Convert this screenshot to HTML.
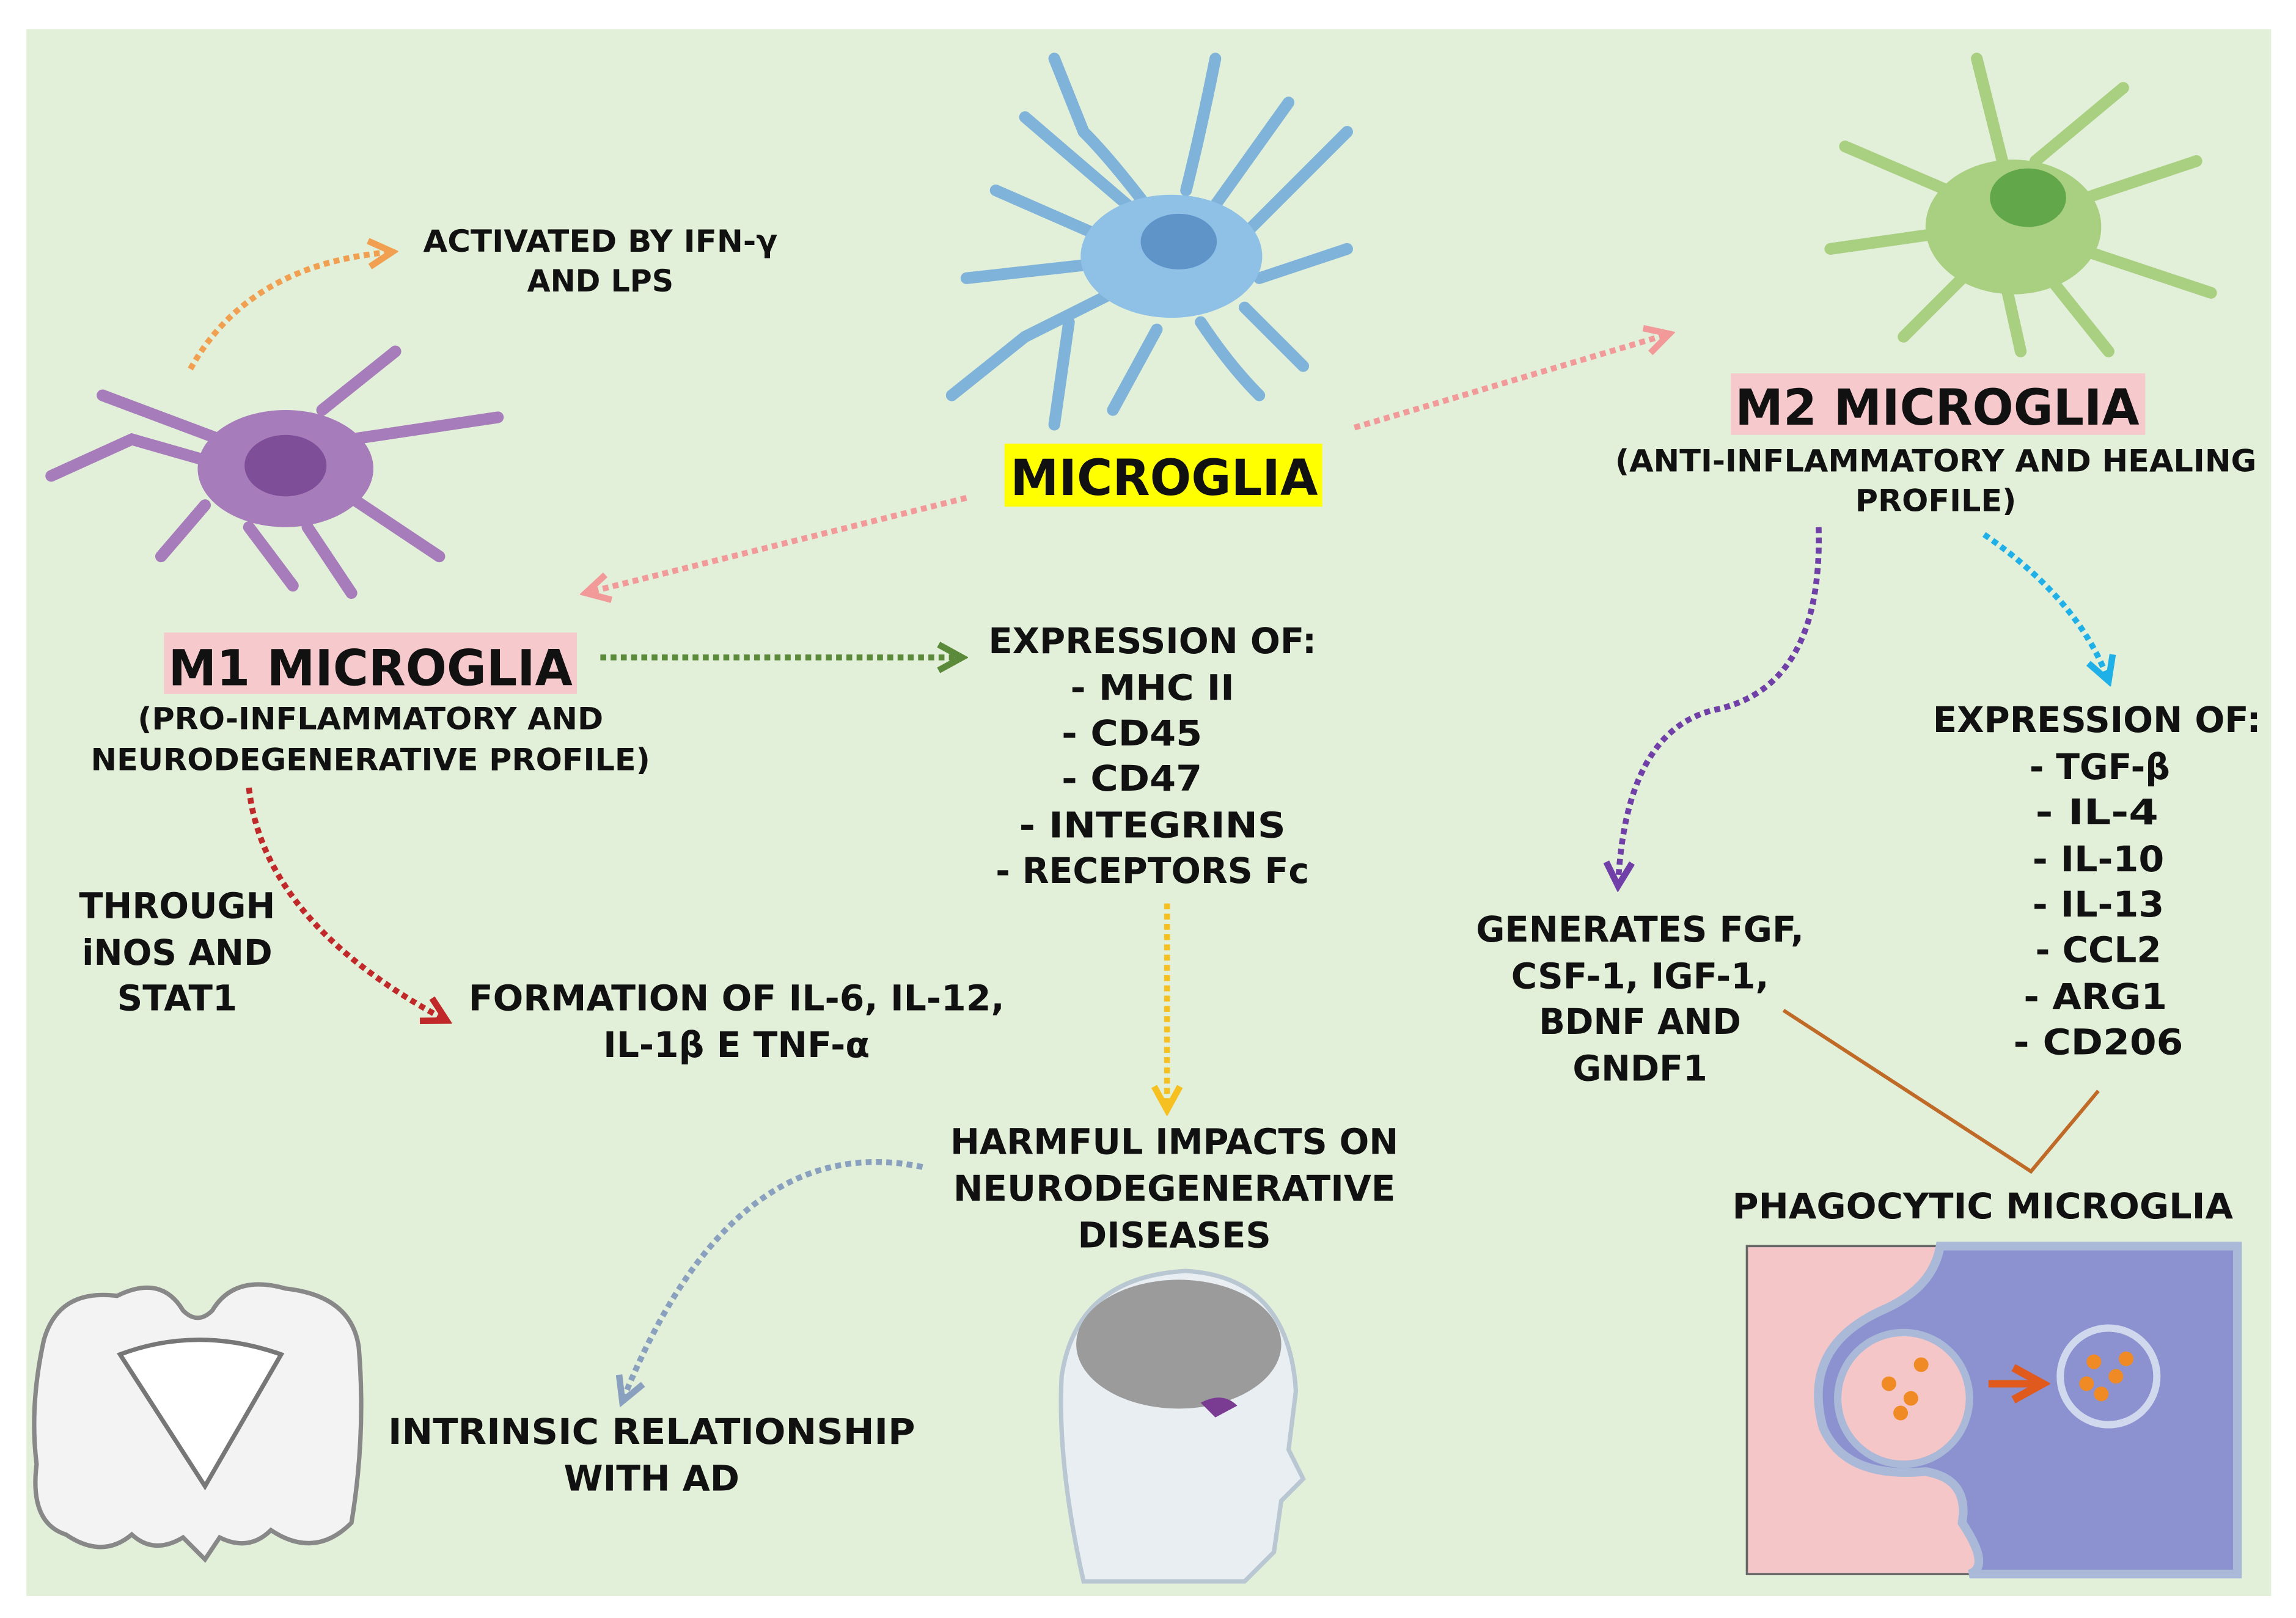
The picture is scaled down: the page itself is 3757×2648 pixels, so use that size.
<!DOCTYPE html>
<html><head><meta charset="utf-8"><style>
html,body{margin:0;padding:0;background:#fff;}
svg{display:block;}
text{font-family:"DejaVu Sans","Liberation Sans",sans-serif;font-weight:bold;fill:#111;text-anchor:middle;}
</style></head><body>
<svg width="3757" height="2648" viewBox="0 0 1568 1105" preserveAspectRatio="none" xmlns="http://www.w3.org/2000/svg">
<defs>
<marker id="ah" markerWidth="6" markerHeight="6" refX="5" refY="3" orient="auto" markerUnits="strokeWidth"><path d="M1,0.8 L5,3 L1,5.2" fill="none" stroke="context-stroke" stroke-width="1.1"/></marker>
</defs>
<rect x="0" y="0" width="1568" height="1105" fill="#fff"/>
<rect x="18" y="20" width="1533" height="1070" fill="#e2efd9"/>

<!-- blue microglia -->
<g stroke="#7fb3d9" stroke-width="8" stroke-linecap="round" fill="none">
<path d="M790,150 Q760,110 740,90 L720,40 M770,140 L700,80 M810,130 Q820,90 830,40 M830,140 L880,70 M850,160 Q890,120 920,90 M860,190 L920,170 M850,210 L890,250 M820,220 Q840,250 860,270 M790,225 L760,280 M760,200 L700,230 L650,270 M750,180 L660,190 M760,165 L680,130 M730,220 L720,290"/>
</g>
<ellipse cx="800" cy="175" rx="62" ry="42" fill="#8fc0e6"/>
<ellipse cx="805" cy="165" rx="26" ry="19" fill="#5e94c8"/>
<!-- green microglia -->
<g stroke="#a9cf80" stroke-width="8" stroke-linecap="round" fill="none">
<path d="M1370,120 L1350,40 M1390,110 L1450,60 M1410,140 L1500,110 M1420,170 L1510,200 M1400,190 L1440,240 M1370,195 L1380,240 M1340,190 L1300,230 M1320,160 L1250,170 M1330,130 L1260,100"/>
</g>
<ellipse cx="1375" cy="155" rx="60" ry="46" fill="#a9cf80"/>
<ellipse cx="1385" cy="135" rx="26" ry="20" fill="#62a84a"/>
<!-- purple microglia -->
<g stroke="#a77cbb" stroke-width="8" stroke-linecap="round" fill="none">
<path d="M160,320 L90,300 L35,325 M150,300 L70,270 M220,280 L270,240 M240,300 L340,285 M240,340 L300,380 M210,360 L240,405 M170,360 L200,400 M140,345 L110,380"/>
</g>
<ellipse cx="195" cy="320" rx="60" ry="40" fill="#a77cbb"/>
<ellipse cx="195" cy="318" rx="28" ry="21" fill="#7e4f98"/>

<!-- brain slice -->
<path d="M30,915 Q40,880 80,885 Q110,870 125,895 Q135,905 145,895 Q160,870 195,880 Q240,885 245,920 Q250,980 240,1040 Q215,1065 185,1045 Q170,1060 150,1050 L140,1065 L125,1050 Q105,1062 90,1048 Q70,1065 45,1048 Q20,1040 25,1000 Q20,960 30,915 Z" fill="#f3f3f3" stroke="#888" stroke-width="3"/>
<path d="M82,925 Q135,905 192,925 L140,1015 Z" fill="#fff" stroke="#777" stroke-width="3"/>
<!-- head -->
<path d="M740,1080 Q722,1000 725,940 Q735,872 810,868 Q880,872 885,950 L880,990 L890,1010 L875,1025 L870,1060 L850,1080 Z" fill="#e9eef2" stroke="#b9c7d3" stroke-width="3"/>
<ellipse cx="805" cy="918" rx="70" ry="44" fill="#9b9b9b"/>
<path d="M820,958 Q835,950 845,960 L830,968 Z" fill="#7a3c93"/>

<!-- phagocytic box -->
<rect x="1193" y="851" width="335" height="224" fill="#f4c6c8" stroke="#666" stroke-width="1.5"/>
<path d="M1325,851 Q1320,880 1285,895 Q1230,920 1245,975 Q1260,1010 1315,1005 Q1345,1010 1340,1040 Q1360,1070 1345,1075 L1528,1075 L1528,851 Z" fill="#8c91cf" stroke="#aab9d8" stroke-width="6"/>
<circle cx="1300" cy="955" r="45" fill="#f4c6c8" stroke="#aab9d8" stroke-width="5"/>
<circle cx="1440" cy="940" r="33" fill="#8c91cf" stroke="#cfd8ec" stroke-width="5"/>
<g fill="#f08a24"><circle cx="1290" cy="945" r="5"/><circle cx="1305" cy="955" r="5"/><circle cx="1298" cy="965" r="5"/><circle cx="1312" cy="932" r="5"/><circle cx="1430" cy="930" r="5"/><circle cx="1445" cy="940" r="5"/><circle cx="1435" cy="952" r="5"/><circle cx="1452" cy="928" r="5"/><circle cx="1425" cy="945" r="5"/></g>
<path d="M1358,945 L1395,945" stroke="#e05a1e" stroke-width="5" marker-end="url(#ah)"/>

<!-- arrows -->
<g fill="none" stroke-width="4" stroke-dasharray="4 3">
<path d="M130,252 Q170,180 268,172" stroke="#f0a050" marker-end="url(#ah)"/>
<path d="M660,340 L400,405" stroke="#f29a9a" marker-end="url(#ah)"/>
<path d="M925,292 L1140,228" stroke="#f29a9a" marker-end="url(#ah)"/>
<path d="M410,449 L657,449" stroke="#5a8a3a" marker-end="url(#ah)"/>
<path d="M170,538 Q180,630 305,697" stroke="#c0282a" marker-end="url(#ah)"/>
<path d="M797,617 L797,758" stroke="#f5c020" marker-end="url(#ah)"/>
<path d="M630,797 Q500,770 425,957" stroke="#8aa0bf" marker-end="url(#ah)"/>
<path d="M1242,360 Q1245,470 1170,485 Q1110,500 1105,605" stroke="#7040a8" marker-end="url(#ah)"/>
<path d="M1355,365 Q1420,410 1440,465" stroke="#20b0e8" marker-end="url(#ah)"/>
</g>
<path d="M1218,690 L1387,800 L1433,745" fill="none" stroke="#c06a28" stroke-width="2.5"/>

<!-- labels boxes -->
<rect x="686" y="303" width="217" height="43" fill="#ffff00"/>
<rect x="1182" y="255" width="283" height="42" fill="#f6c9cc"/>
<rect x="112" y="432" width="282" height="42" fill="#f6c9cc"/>

<text x="795" y="338" font-size="34" textLength="210" lengthAdjust="spacingAndGlyphs">MICROGLIA</text>
<text x="1323" y="290" font-size="34" textLength="276" lengthAdjust="spacingAndGlyphs">M2 MICROGLIA</text>
<text x="253" y="468" font-size="34" textLength="276" lengthAdjust="spacingAndGlyphs">M1 MICROGLIA</text>

<g font-size="21">
<text x="410" y="172" textLength="242" lengthAdjust="spacingAndGlyphs">ACTIVATED BY IFN-γ</text>
<text x="410" y="199" textLength="100" lengthAdjust="spacingAndGlyphs">AND LPS</text>
<text x="1322" y="322" textLength="438" lengthAdjust="spacingAndGlyphs">(ANTI-INFLAMMATORY AND HEALING</text>
<text x="1322" y="349" textLength="110" lengthAdjust="spacingAndGlyphs">PROFILE)</text>
<text x="253" y="498" textLength="318" lengthAdjust="spacingAndGlyphs">(PRO-INFLAMMATORY AND</text>
<text x="253" y="526" textLength="382" lengthAdjust="spacingAndGlyphs">NEURODEGENERATIVE PROFILE)</text>
</g>
<g font-size="24">
<text x="787" y="446" textLength="224" lengthAdjust="spacingAndGlyphs">EXPRESSION OF:</text>
<text x="787" y="478" textLength="112" lengthAdjust="spacingAndGlyphs">- MHC II</text>
<text x="773" y="509" textLength="96" lengthAdjust="spacingAndGlyphs">-   CD45</text>
<text x="773" y="540" textLength="96" lengthAdjust="spacingAndGlyphs">-   CD47</text>
<text x="787" y="572" textLength="182" lengthAdjust="spacingAndGlyphs">-   INTEGRINS</text>
<text x="787" y="603" textLength="214" lengthAdjust="spacingAndGlyphs">- RECEPTORS Fc</text>
<text x="121" y="627" textLength="134" lengthAdjust="spacingAndGlyphs">THROUGH</text>
<text x="121" y="659" textLength="130" lengthAdjust="spacingAndGlyphs">iNOS AND</text>
<text x="121" y="690" textLength="82" lengthAdjust="spacingAndGlyphs">STAT1</text>
<text x="503" y="690" textLength="366" lengthAdjust="spacingAndGlyphs">FORMATION OF IL-6, IL-12,</text>
<text x="503" y="722" textLength="182" lengthAdjust="spacingAndGlyphs">IL-1β E TNF-α</text>
<text x="802" y="788" textLength="306" lengthAdjust="spacingAndGlyphs">HARMFUL IMPACTS ON</text>
<text x="802" y="820" textLength="302" lengthAdjust="spacingAndGlyphs">NEURODEGENERATIVE</text>
<text x="802" y="852" textLength="132" lengthAdjust="spacingAndGlyphs">DISEASES</text>
<text x="445" y="986" textLength="360" lengthAdjust="spacingAndGlyphs">INTRINSIC RELATIONSHIP</text>
<text x="445" y="1018" textLength="120" lengthAdjust="spacingAndGlyphs">WITH AD</text>
<text x="1120" y="643" textLength="224" lengthAdjust="spacingAndGlyphs">GENERATES FGF,</text>
<text x="1120" y="675" textLength="176" lengthAdjust="spacingAndGlyphs">CSF-1, IGF-1,</text>
<text x="1120" y="706" textLength="138" lengthAdjust="spacingAndGlyphs">BDNF AND</text>
<text x="1120" y="738" textLength="92" lengthAdjust="spacingAndGlyphs">GNDF1</text>
<text x="1432" y="500" textLength="224" lengthAdjust="spacingAndGlyphs">EXPRESSION OF:</text>
<text x="1434" y="532" textLength="96" lengthAdjust="spacingAndGlyphs">- TGF-β</text>
<text x="1432" y="563" textLength="84" lengthAdjust="spacingAndGlyphs">-   IL-4</text>
<text x="1433" y="595" textLength="90" lengthAdjust="spacingAndGlyphs">- IL-10</text>
<text x="1433" y="626" textLength="90" lengthAdjust="spacingAndGlyphs">- IL-13</text>
<text x="1433" y="657" textLength="86" lengthAdjust="spacingAndGlyphs">- CCL2</text>
<text x="1431" y="689" textLength="98" lengthAdjust="spacingAndGlyphs">-   ARG1</text>
<text x="1433" y="720" textLength="116" lengthAdjust="spacingAndGlyphs">-   CD206</text>
<text x="1354" y="832" textLength="342" lengthAdjust="spacingAndGlyphs">PHAGOCYTIC MICROGLIA</text>
</g>
</svg>
</body></html>
